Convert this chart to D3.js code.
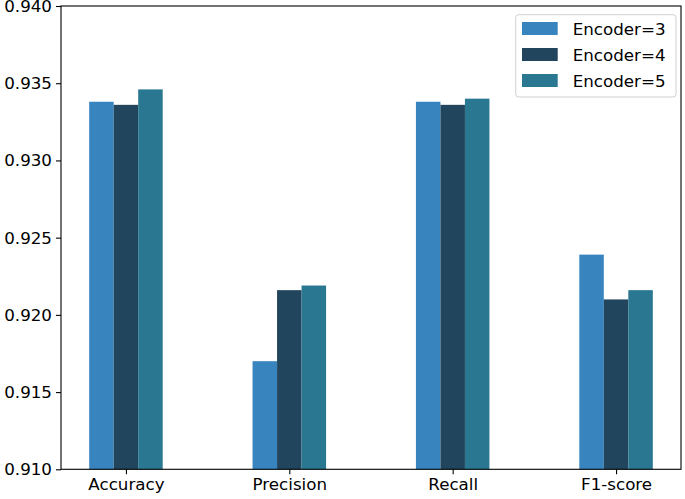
<!DOCTYPE html>
<html><head><meta charset="utf-8">
<script src="https://cdn.jsdelivr.net/npm/d3@7"></script>
<style>body{margin:0;background:#fff}svg{display:block}text{font-family:"DejaVu Sans",sans-serif;fill:#000}</style>
</head><body><svg id="c" width="685" height="499"></svg>
<script>
const categories = ["Accuracy", "Precision", "Recall", "F1-score"];
const seriesNames = ["Encoder=3", "Encoder=4", "Encoder=5"];
const encoder3 = [0.9338, 0.9170, 0.9338, 0.9239];
const encoder4 = [0.9336, 0.9216, 0.9336, 0.9210];
const encoder5 = [0.9346, 0.9219, 0.9340, 0.9216];
const yTicks = [0.910, 0.915, 0.920, 0.925, 0.930, 0.935, 0.940];
const colors = ["#3784bf", "#20455c", "#2a7791"];
const series = [encoder3, encoder4, encoder5];

const svg = d3.select("#c");
const L = 61, R = 681, T = 6, B = 469.3;
const barW = 0.15;
const x = d3.scaleLinear().domain([-0.3975, 3.3975]).range([L, R]);
const y = d3.scaleLinear().domain([0.910, 0.940]).range([B, T]);
const fs = 16.7;

const g = svg.append("g");
series.forEach((vals, si) => {
  g.selectAll(null).data(vals).enter().append("rect")
    .attr("x", (d, i) => x(i + (si - 1) * barW - barW / 2))
    .attr("width", x(barW) - x(0))
    .attr("y", d => y(d))
    .attr("height", d => y(0.910) - y(d))
    .attr("fill", colors[si]);
});

// axes
const yAxis = d3.axisLeft(y).tickValues(yTicks).tickFormat(d3.format(".3f")).tickSize(5).tickPadding(4);
const ya = svg.append("g").attr("transform", `translate(${L},0)`).call(yAxis);
const xAxis = d3.axisBottom(x).tickValues(categories.map((c, i) => i)).tickFormat(i => categories[i]).tickSize(5).tickPadding(4);
const xa = svg.append("g").attr("transform", `translate(0,${B})`).call(xAxis);
[ya, xa].forEach(a => {
  a.select(".domain").remove();
  a.selectAll("line").attr("stroke", "#000").attr("stroke-width", 1.1);
  a.selectAll("text").style("font-size", fs + "px").style("font-family", "DejaVu Sans");
});
// frame
svg.append("rect").attr("x", L).attr("y", T).attr("width", R - L).attr("height", B - T)
  .attr("fill", "none").attr("stroke", "#000").attr("stroke-width", 1.1);

// legend
const lg = svg.append("g");
lg.append("rect").attr("x", 515.7).attr("y", 14.7).attr("width", 160.3).attr("height", 82.3)
  .attr("rx", 3).attr("fill", "#fff").attr("fill-opacity", 0.8).attr("stroke", "#d0d0d0").attr("stroke-width", 1);
seriesNames.forEach((n, i) => {
  const cy = 28.5 + i * 26;
  lg.append("rect").attr("x", 522).attr("y", cy - 6.5).attr("width", 35.7).attr("height", 13).attr("fill", colors[i]);
  lg.append("text").attr("x", 572.7).attr("y", cy).attr("dy", "0.36em").style("font-size", fs + "px").text(n);
});
</script></body></html>
